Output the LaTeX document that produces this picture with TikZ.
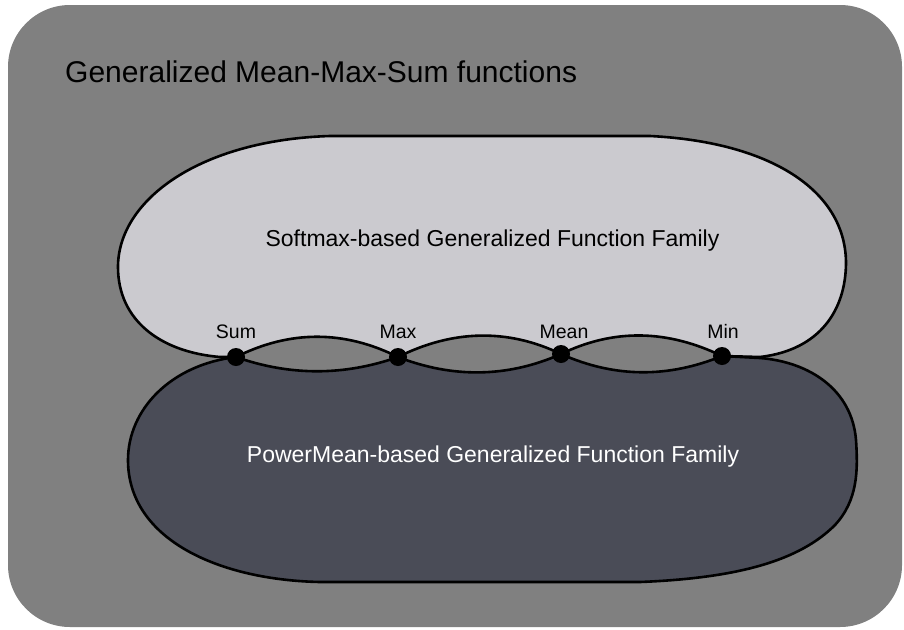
\documentclass[tikz,border=0pt]{standalone}
\usepackage{fontspec}
\setmainfont{Liberation Sans}
\definecolor{outergray}{RGB}{128,128,128}
\definecolor{softfill}{RGB}{203,202,207}
\definecolor{powerfill}{RGB}{74,76,87}
\tikzset{
  blobline/.style={draw=black, line width=2.6pt, line join=round},
  pointdot/.style={circle, fill=black, inner sep=0pt, minimum size=18pt},
  ptlabel/.style={font=\fontsize{19.5}{22}\selectfont, anchor=base, inner sep=0pt},
  familylabel/.style={font=\fontsize{23}{26}\selectfont, anchor=base, inner sep=0pt},
}
\begin{document}
\begin{tikzpicture}[x=1pt,y=-1pt]
\useasboundingbox (0,0) rectangle (904,629);
% outer container
\fill[outergray, rounded corners=62pt] (8,5) rectangle (902,627);
\node[font=\fontsize{30}{34}\selectfont, anchor=base west, inner sep=0pt] (title) at (65,82) {Generalized Mean-Max-Sum functions};

% named points
\coordinate (sum) at (236,357);
\coordinate (max) at (398,357);
\coordinate (mean) at (561,354);
\coordinate (min) at (722,356);

% upper blob (softmax)
\path[fill=softfill] (sum)
  .. controls (290,330) and (344,330) .. (max)
  .. controls (452,330) and (507,328) .. (mean)
  .. controls (615,328) and (668,330) .. (min)
  -- (760,357)
  .. controls (820,350) and (846,310) .. (846,262)
  .. controls (845,190) and (770,142) .. (650,136)
  -- (330,136)
  .. controls (200,140) and (118,200) .. (118,267)
  .. controls (118,320) and (160,352) .. (220,357) -- cycle;
% lower blob (power mean)
\path[fill=powerfill] (sum)
  .. controls (290,376) and (344,376) .. (max)
  .. controls (452,378) and (507,378) .. (mean)
  .. controls (615,378) and (668,378) .. (min)
  -- (760,358)
  .. controls (810,362) and (852,390) .. (856,440)
  .. controls (858,470) and (858,500) .. (835,525)
  .. controls (800,560) and (740,578) .. (640,582)
  -- (320,582)
  .. controls (220,580) and (128,540) .. (128,460)
  .. controls (128,410) and (170,365) .. cycle;

% outlines
\draw[blobline] (sum)
  .. controls (290,330) and (344,330) .. (max)
  .. controls (452,330) and (507,328) .. (mean)
  .. controls (615,328) and (668,330) .. (min)
  -- (760,357)
  .. controls (820,350) and (846,310) .. (846,262)
  .. controls (845,190) and (770,142) .. (650,136)
  -- (330,136)
  .. controls (200,140) and (118,200) .. (118,267)
  .. controls (118,320) and (160,352) .. (220,357) -- cycle;
\draw[blobline] (sum)
  .. controls (290,376) and (344,376) .. (max)
  .. controls (452,378) and (507,378) .. (mean)
  .. controls (615,378) and (668,378) .. (min)
  -- (760,358)
  .. controls (810,362) and (852,390) .. (856,440)
  .. controls (858,470) and (858,500) .. (835,525)
  .. controls (800,560) and (740,578) .. (640,582)
  -- (320,582)
  .. controls (220,580) and (128,540) .. (128,460)
  .. controls (128,410) and (170,365) .. cycle;

% family labels
\node[familylabel] (softlabel) at (492.5,246) {Softmax-based Generalized Function Family};
\node[familylabel, text=white] (powerlabel) at (493,462) {PowerMean-based Generalized Function Family};

% points
\node[pointdot] (sumdot) at (sum) {};
\node[pointdot] (maxdot) at (max) {};
\node[pointdot] (meandot) at (mean) {};
\node[pointdot] (mindot) at (min) {};
\node[ptlabel] (sumlabel) at (236,338) {Sum};
\node[ptlabel] (maxlabel) at (398,338) {Max};
\node[ptlabel] (meanlabel) at (564,338) {Mean};
\node[ptlabel] (minlabel) at (723,338) {Min};
\end{tikzpicture}
\end{document}
